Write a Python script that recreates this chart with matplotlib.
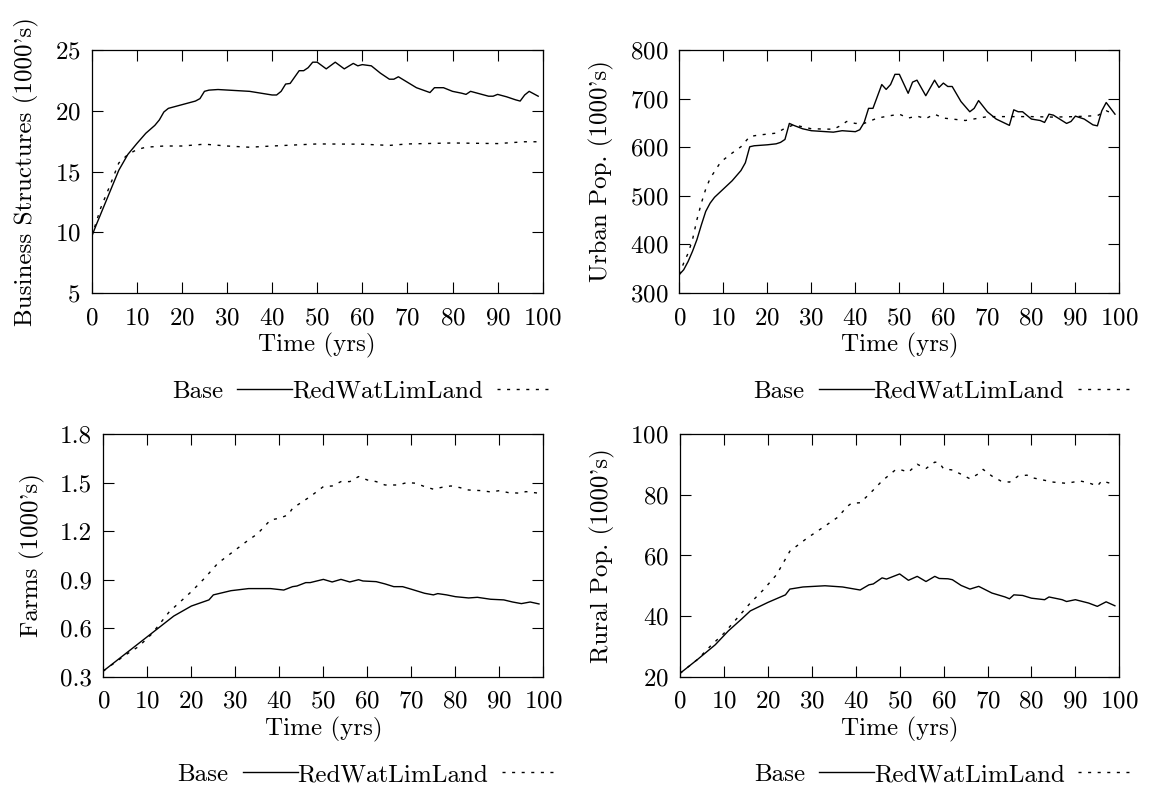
import matplotlib
matplotlib.use("Agg")
import matplotlib.pyplot as plt

plt.rcParams['font.family'] = ['cmr10', 'DejaVu Serif']
plt.rcParams['axes.formatter.use_mathtext'] = True
plt.rcParams['axes.unicode_minus'] = False
plt.rcParams['font.size'] = 18

# Business structures (1000's)
bs_base_t = [0, 1, 3, 6, 8, 10, 12, 14, 15, 16, 17, 20, 23, 24, 25, 26, 28, 35, 40, 41,
             42, 43, 44, 46, 47, 48, 49, 50, 52, 54, 56, 58, 59, 60, 62, 64, 66, 67, 68, 70,
             72, 75, 76, 78, 80, 82, 83, 84, 86, 88, 89, 90, 92, 94, 95, 96, 97, 99]
bs_base = [9.66, 10.6, 12.4, 15.1, 16.4, 17.3, 18.15, 18.8, 19.25, 19.9,
           20.2, 20.5, 20.8, 21.0, 21.6, 21.7, 21.75, 21.6, 21.3, 21.3,
           21.6, 22.2, 22.25, 23.3, 23.3, 23.55, 24.0, 24.0, 23.45, 24.0,
           23.45, 23.9, 23.7, 23.8, 23.7, 23.1, 22.6, 22.6, 22.8, 22.35,
           21.9, 21.5, 21.9, 21.9, 21.6, 21.45, 21.35, 21.6, 21.4, 21.2,
           21.2, 21.35, 21.15, 20.9, 20.8, 21.3, 21.6, 21.2]
bs_red_t = [0, 2, 4, 6, 8, 10, 12, 16, 20, 25, 30, 35, 40, 50, 60, 66, 70, 80, 90, 96, 99]
bs_red = [9.66, 12.0, 13.8, 15.7, 16.4, 16.8, 17.0, 17.1, 17.1, 17.25, 17.1, 17.0, 17.1,
          17.27, 17.25, 17.15, 17.27, 17.35, 17.3, 17.45, 17.45]

# Urban population (1000's)
up_base_t = [0, 1, 2, 3, 4, 5, 6, 7, 8, 10, 12, 14, 15, 16, 17, 20, 22, 23, 24,
             25, 26, 28, 30, 35, 37, 40, 41, 42, 43, 44, 46, 47, 48, 49, 50, 52, 53, 54, 56,
             58, 59, 60, 61, 62, 64, 66, 67, 68, 70, 72, 75, 76, 77, 78, 80, 82, 83, 84, 85,
             88, 89, 90, 92, 94, 95, 96, 97, 99]
up_base = [338, 348, 365, 386, 410, 440, 468, 485, 497, 514, 531, 552, 568, 601, 603, 605, 607, 610, 616,
           649, 645, 638, 634, 631, 634, 632, 636, 651, 680, 680, 729, 719, 729, 750, 750, 711, 734, 738, 706,
           738, 723, 732, 725, 725, 694, 673, 680, 696, 673, 658, 645, 677, 673, 673, 658, 655, 651, 668, 666,
           649, 653, 664, 658, 646, 644, 675, 692, 668]
up_red_t = [0, 1, 2, 3, 4, 5, 6, 7, 8, 9, 10, 12, 14, 16, 18, 22, 24, 26, 30, 35, 37,
            38, 40, 42, 45, 48, 50, 52, 54, 56, 58, 60, 65, 70, 75, 80, 85, 90, 95, 97, 99]
up_red = [338, 362, 382, 410, 451, 485, 514, 536, 550, 564, 574, 588, 601, 622, 625, 629, 639, 646, 638, 637, 646,
          653, 649, 649, 660, 665, 668, 660, 664, 659, 668, 660, 655, 663, 663, 663, 662, 663, 665, 675, 668]

# Farms (1000's)
fa_base_t = [0, 4, 8, 12, 16, 20, 24, 25, 29, 33, 38, 41, 43, 44, 46, 47, 50, 52, 54, 56,
             58, 59, 62, 64, 66, 68, 70, 73, 75, 76, 78, 80, 83, 85, 88, 91, 93, 95, 97, 99]
fa_base = [0.335, 0.42, 0.505, 0.59, 0.675, 0.737, 0.775, 0.806, 0.832, 0.845,
           0.845, 0.836, 0.857, 0.861, 0.882, 0.882, 0.902, 0.886, 0.902, 0.886,
           0.900, 0.892, 0.888, 0.874, 0.857, 0.857, 0.841, 0.816, 0.806, 0.814,
           0.806, 0.795, 0.787, 0.791, 0.779, 0.775, 0.762, 0.752, 0.762, 0.750]
fa_red_t = [0, 5, 8, 11, 15, 20, 23, 26, 30, 33, 35, 38, 40, 42, 43, 47, 50, 52, 54, 56,
            58, 60, 62, 64, 67, 69, 71, 73, 75, 77, 79, 81, 83, 86, 88, 90, 92, 95, 96, 99]
fa_red = [0.335, 0.434, 0.486, 0.564, 0.702, 0.826, 0.909, 1.001, 1.084, 1.146,
          1.183, 1.270, 1.280, 1.301, 1.342, 1.414, 1.476, 1.480, 1.507, 1.507,
          1.538, 1.517, 1.507, 1.486, 1.486, 1.501, 1.497, 1.476, 1.460, 1.472,
          1.480, 1.470, 1.455, 1.451, 1.443, 1.451, 1.439, 1.435, 1.445, 1.435]

# Rural population (1000's)
rp_base_t = [0, 4, 8, 11, 14, 16, 20, 24, 25, 28, 33, 37, 41, 43, 44, 46, 47, 50, 52, 54,
             56, 58, 59, 61, 62, 64, 66, 68, 71, 74, 75, 76, 78, 80, 83, 84, 87, 88, 90, 93,
             95, 97, 99]
rp_base = [21.1, 25.7, 30.5, 35.1, 39.0, 41.7, 44.5, 47.0, 48.9, 49.6,
           50.0, 49.6, 48.6, 50.3, 50.6, 52.6, 52.2, 53.9, 51.8, 53.1,
           51.4, 53.1, 52.4, 52.3, 52.0, 50.1, 48.9, 49.8, 47.6, 46.3,
           45.7, 47.0, 46.8, 45.9, 45.4, 46.3, 45.4, 44.8, 45.4, 44.3,
           43.2, 44.7, 43.4]
rp_red_t = [0, 4, 7, 10, 13, 16, 19, 22, 25, 29, 33, 36, 38, 39, 41, 43, 46, 49, 50, 52,
            54, 56, 58, 59, 60, 62, 64, 66, 68, 69, 71, 73, 75, 77, 79, 80, 83, 85, 88, 91,
            93, 95, 96, 98]
rp_red = [21.1, 25.7, 30.2, 34.3, 39.3, 44.3, 48.7, 53.7, 61.4, 65.8,
          69.7, 72.7, 76.1, 77.2, 77.4, 80.1, 84.6, 88.2, 88.4, 87.5,
          90.1, 88.7, 90.8, 90.6, 88.6, 88.2, 86.8, 85.3, 87.0, 88.4,
          86.2, 84.6, 84.2, 86.2, 86.5, 85.7, 84.8, 84.2, 83.8, 84.6,
          84.0, 82.9, 84.6, 83.8]

x_ticks = [0, 10, 20, 30, 40, 50, 60, 70, 80, 90, 100]

panels = [
    ([0.0796, 0.6305, 0.3915, 0.3064], bs_base_t, bs_base, bs_red_t, bs_red,
     "Business Structures (1000's)", (5, 25), [5, 10, 15, 20, 25], None),
    ([0.5897, 0.6305, 0.3820, 0.3064], up_base_t, up_base, up_red_t, up_red,
     "Urban Pop. (1000's)", (300, 800), [300, 400, 500, 600, 700, 800], None),
    ([0.0897, 0.1467, 0.3820, 0.3057], fa_base_t, fa_base, fa_red_t, fa_red,
     "Farms (1000's)", (0.3, 1.8), [0.3, 0.6, 0.9, 1.2, 1.5, 1.8], "%.1f"),
    ([0.5903, 0.1467, 0.3813, 0.3057], rp_base_t, rp_base, rp_red_t, rp_red,
     "Rural Pop. (1000's)", (20, 100), [20, 40, 60, 80, 100], None),
]

fig = plt.figure(figsize=(11.52, 7.93), dpi=100)

for rect, bt, bv, rt, rv, ylab, ylim, yticks, fmt in panels:
    ax = fig.add_axes(rect)
    ax.plot(bt, bv, color='black', lw=1.0, label='Base')
    ax.plot(rt, rv, color='black', lw=1.0, dashes=(2.2, 4.7), label='RedWatLimLand')
    ax.set_xlim(0, 100)
    ax.set_ylim(*ylim)
    ax.set_xticks(x_ticks)
    ax.set_yticks(yticks)
    if fmt:
        ax.set_yticklabels([fmt % v for v in yticks])
    ax.tick_params(axis='x', pad=10)
    ax.tick_params(axis='y', pad=8)
    ax.tick_params(direction='in', top=True, right=True, length=8, width=0.8,
                   labelsize=18)
    for sp in ax.spines.values():
        sp.set_linewidth(0.9)
    ax.set_xlabel("Time (yrs)", labelpad=3)
    ax.set_ylabel(ylab, labelpad=11)
    ax.legend(loc='center', bbox_to_anchor=(0.60, -0.405), ncol=2, frameon=False,
              markerfirst=False, handlelength=2.2, handletextpad=0.55,
              columnspacing=0.0, fontsize=18)

fig.savefig("out.png", dpi=100)
